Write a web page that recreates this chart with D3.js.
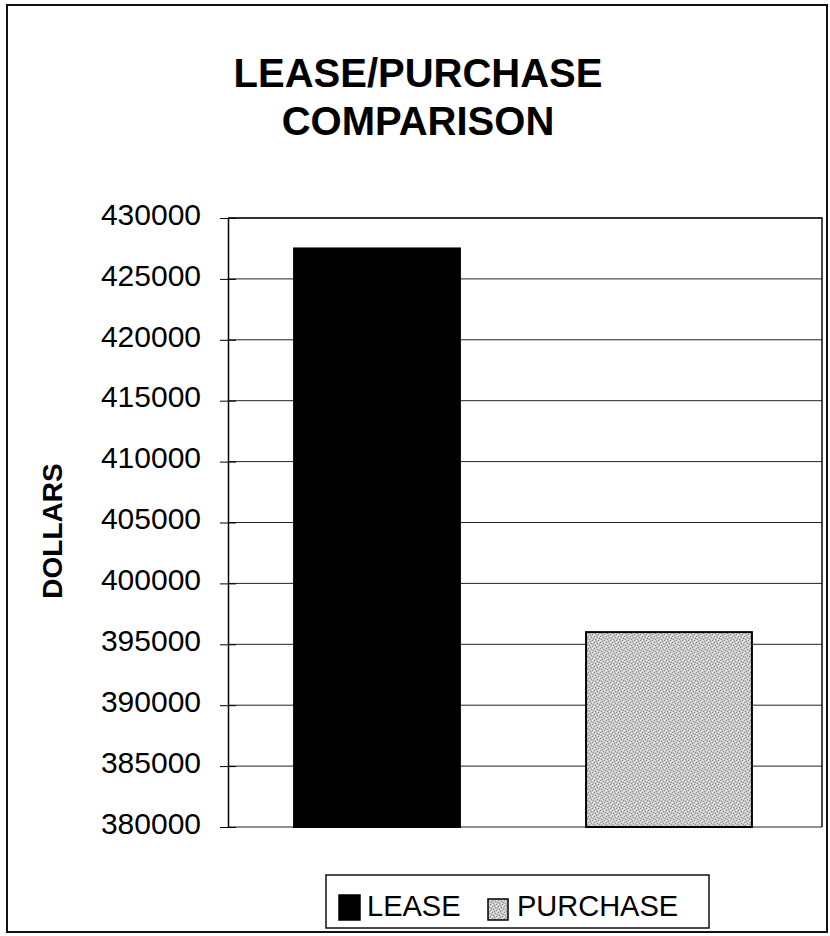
<!DOCTYPE html>
<html>
<head>
<meta charset="utf-8">
<script src="https://cdn.jsdelivr.net/npm/d3@7"></script>
<style>
  html, body { margin: 0; padding: 0; background: #fff; }
  svg { display: block; }
</style>
</head>
<body>
<svg id="chart" width="830" height="936"></svg>
<script>
const categories = ["LEASE", "PURCHASE"];
const values = [427500, 396000];
const tickValues = [380000, 385000, 390000, 395000, 400000, 405000, 410000, 415000, 420000, 425000, 430000];
const titleLines = ["LEASE/PURCHASE", "COMPARISON"];
const yAxisTitle = "DOLLARS";

const svg = d3.select("#chart");
const font = "Arial, 'Liberation Sans', Helvetica, sans-serif";

// patterned fill for purchase
const defs = svg.append("defs");
const pat = defs.append("pattern").attr("id", "grain").attr("patternUnits", "userSpaceOnUse")
  .attr("width", 6).attr("height", 6);
pat.append("rect").attr("width", 6).attr("height", 6).attr("fill", "#c8c8c8");
[[0,0],[3,1],[1,3],[4,4],[2,5],[5,2]].forEach(([x,y]) =>
  pat.append("rect").attr("x", x).attr("y", y).attr("width", 1).attr("height", 1).attr("fill", "#8f8f8f"));
[[1,1],[4,0],[0,4],[3,3],[5,5]].forEach(([x,y]) =>
  pat.append("rect").attr("x", x).attr("y", y).attr("width", 1).attr("height", 1).attr("fill", "#ececec"));

// outer border
svg.append("rect").attr("x", 7).attr("y", 5).attr("width", 820).attr("height", 927)
  .attr("fill", "none").attr("stroke", "#111").attr("stroke-width", 2);

const plot = { left: 228, right: 822, top: 218, bottom: 827 };

const x = d3.scaleBand().domain(categories).range([231, 815])
  .paddingInner(0.432).paddingOuter(0.216);
const y = d3.scaleLinear().domain([380000, 430000]).range([plot.bottom, plot.top]);

// gridlines
svg.append("g").selectAll("line").data(tickValues).join("line")
  .attr("x1", plot.left).attr("x2", plot.right)
  .attr("y1", d => y(d)).attr("y2", d => y(d))
  .attr("stroke", "#222").attr("stroke-width", 1);

// plot border (top & right)
svg.append("path")
  .attr("d", `M${plot.left},${plot.top}H${plot.right}V${plot.bottom}`)
  .attr("fill", "none").attr("stroke", "#111").attr("stroke-width", 1.5);

// bars
const fills = ["#000", "url(#grain)"];
svg.append("g").selectAll("rect").data(values).join("rect")
  .attr("x", (d, i) => x(categories[i]))
  .attr("width", x.bandwidth())
  .attr("y", d => y(d))
  .attr("height", d => y(380000) - y(d))
  .attr("fill", (d, i) => fills[i])
  .attr("stroke", "#000").attr("stroke-width", 2);

// y axis
const yAxis = d3.axisLeft(y).tickValues(tickValues).tickFormat(d3.format("d"))
  .tickSizeInner(8).tickSizeOuter(0).tickPadding(20);
const gy = svg.append("g").attr("transform", `translate(${plot.left},0)`).call(yAxis);
gy.select(".domain").attr("stroke", "#000").attr("stroke-width", 1.5);
gy.selectAll(".tick line").attr("stroke", "#000").attr("x2", 8).attr("x1", -8);
gy.selectAll(".tick text").attr("font-family", font).attr("font-size", 30)
  .attr("fill", "#000").attr("dy", "0.34em").attr("y", -4).attr("x", -27);

// title
svg.append("text").attr("x", 418).attr("text-anchor", "middle")
  .attr("font-family", font).attr("font-weight", "bold").attr("font-size", 40).attr("fill", "#000")
  .selectAll("tspan").data(titleLines).join("tspan")
  .attr("x", 418).attr("y", (d, i) => 87 + i * 48).text(d => d);

// y axis title
svg.append("text").attr("transform", "translate(62,531) rotate(-90)")
  .attr("text-anchor", "middle").attr("font-family", font).attr("font-weight", "bold")
  .attr("font-size", 28).attr("fill", "#000").text(yAxisTitle);

// legend
const lg = svg.append("g");
lg.append("rect").attr("x", 326).attr("y", 875).attr("width", 383).attr("height", 53)
  .attr("fill", "#fff").attr("stroke", "#111").attr("stroke-width", 1.5);
const legendItems = [
  { name: categories[0], sx: 339, sy: 895, sw: 21, sh: 25, tx: 367, fill: fills[0] },
  { name: categories[1], sx: 488, sy: 899, sw: 20, sh: 21, tx: 517, fill: fills[1] }
];
legendItems.forEach(it => {
  lg.append("rect").attr("x", it.sx).attr("y", it.sy).attr("width", it.sw).attr("height", it.sh)
    .attr("fill", it.fill).attr("stroke", "#000").attr("stroke-width", 1.5);
  lg.append("text").attr("x", it.tx).attr("y", 916).attr("font-family", font)
    .attr("font-size", 29).attr("fill", "#000").text(it.name);
});
</script>
</body>
</html>
